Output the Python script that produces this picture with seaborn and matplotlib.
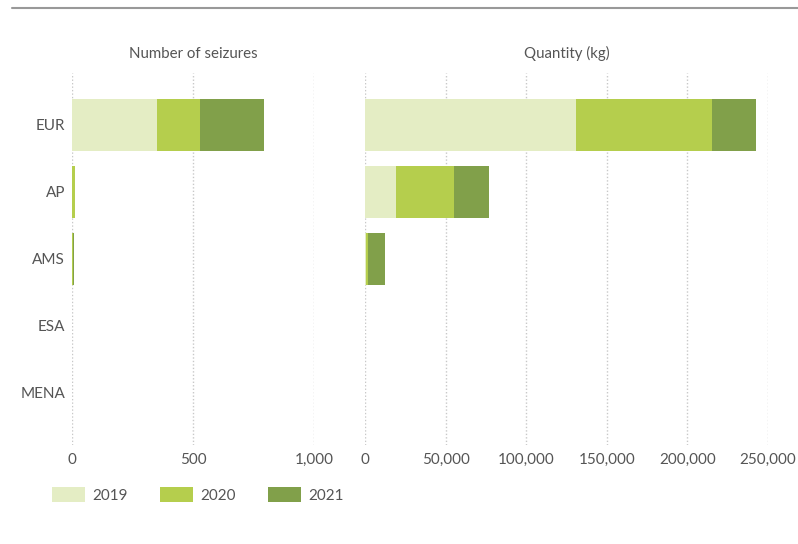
import matplotlib
matplotlib.use("Agg")
import matplotlib.pyplot as plt
import pandas as pd
import seaborn as sns
from matplotlib.patches import Patch
from matplotlib.lines import Line2D
from matplotlib.ticker import FuncFormatter

regions = ['EUR', 'AP', 'AMS', 'ESA', 'MENA']
years = ['2019', '2020', '2021']

seizures_2019 = [351, 2, 1, 0, 0]
seizures_2020 = [178, 9, 4, 0, 0]
seizures_2021 = [266, 3, 2, 0, 0]

qty_2019 = [130800, 19500, 500, 0, 0]
qty_2020 = [84600, 36000, 1500, 0, 0]
qty_2021 = [27300, 21200, 10600, 0, 0]

COLORS = {'2019': '#e4edc4', '2020': '#b5ce4d', '2021': '#81a04a'}
TEXT = '#555555'


def stacked(a, b, c):
    df = pd.DataFrame({'region': regions, '2019': a, '2020': b, '2021': c})
    # cumulative totals, drawn back to front
    df['c2019'] = df['2019']
    df['c2020'] = df['2019'] + df['2020']
    df['c2021'] = df['c2020'] + df['2021']
    return df


def draw_panel(ax, df, xmax, ticks, title):
    for yr in ['2021', '2020', '2019']:
        sns.barplot(ax=ax, data=df, y='region', x='c' + yr, order=regions,
                    color=COLORS[yr], width=0.77, orient='h',
                    saturation=1, linewidth=0)
    ax.set_xlim(0, xmax)
    ax.set_ylim(4.776, -0.776)
    ax.set_xticks(ticks)
    ax.xaxis.set_major_formatter(FuncFormatter(lambda v, p: f'{int(v):,}'))
    ax.grid(axis='x', color='#c8c8c8', linestyle=(0, (1, 1.5)), linewidth=1)
    ax.grid(axis='y', visible=False)
    ax.set_axisbelow(True)
    for s in ax.spines.values():
        s.set_visible(False)
    ax.tick_params(length=0, labelsize=11, colors=TEXT, pad=6)
    ax.set_xlabel('')
    ax.set_ylabel('')
    ax.set_title(title, fontsize=10.8, color=TEXT, pad=11)


sns.set_theme(style='white')
plt.rcParams['font.family'] = ['Lato', 'DejaVu Sans']

fig = plt.figure(figsize=(7.98, 5.44), dpi=100)
ax0 = fig.add_axes([0.0902, 0.182, 0.3033, 0.684])
ax1 = fig.add_axes([0.4574, 0.182, 0.505, 0.684])

draw_panel(ax0, stacked(seizures_2019, seizures_2020, seizures_2021),
           1000, [0, 500, 1000], 'Number of seizures')
draw_panel(ax1, stacked(qty_2019, qty_2020, qty_2021),
           250000, [0, 50000, 100000, 150000, 200000, 250000], 'Quantity (kg)')
ax1.set_yticklabels([])
ax0.tick_params(axis='y', pad=5)

fig.add_artist(Line2D([12 / 798, 1.0], [1 - 8 / 544, 1 - 8 / 544],
                      color='#999999', linewidth=1.5))

handles = [Patch(facecolor=COLORS[y], edgecolor='none', label=y) for y in years]
fig.legend(handles=handles, loc='center left', bbox_to_anchor=(0.065, 1 - 495 / 544),
           ncol=3, frameon=False, fontsize=11, labelcolor=TEXT,
           handlelength=2.15, handleheight=1.1, handletextpad=0.5,
           columnspacing=2.1, borderaxespad=0, borderpad=0)

fig.savefig('out.png', dpi=100)
